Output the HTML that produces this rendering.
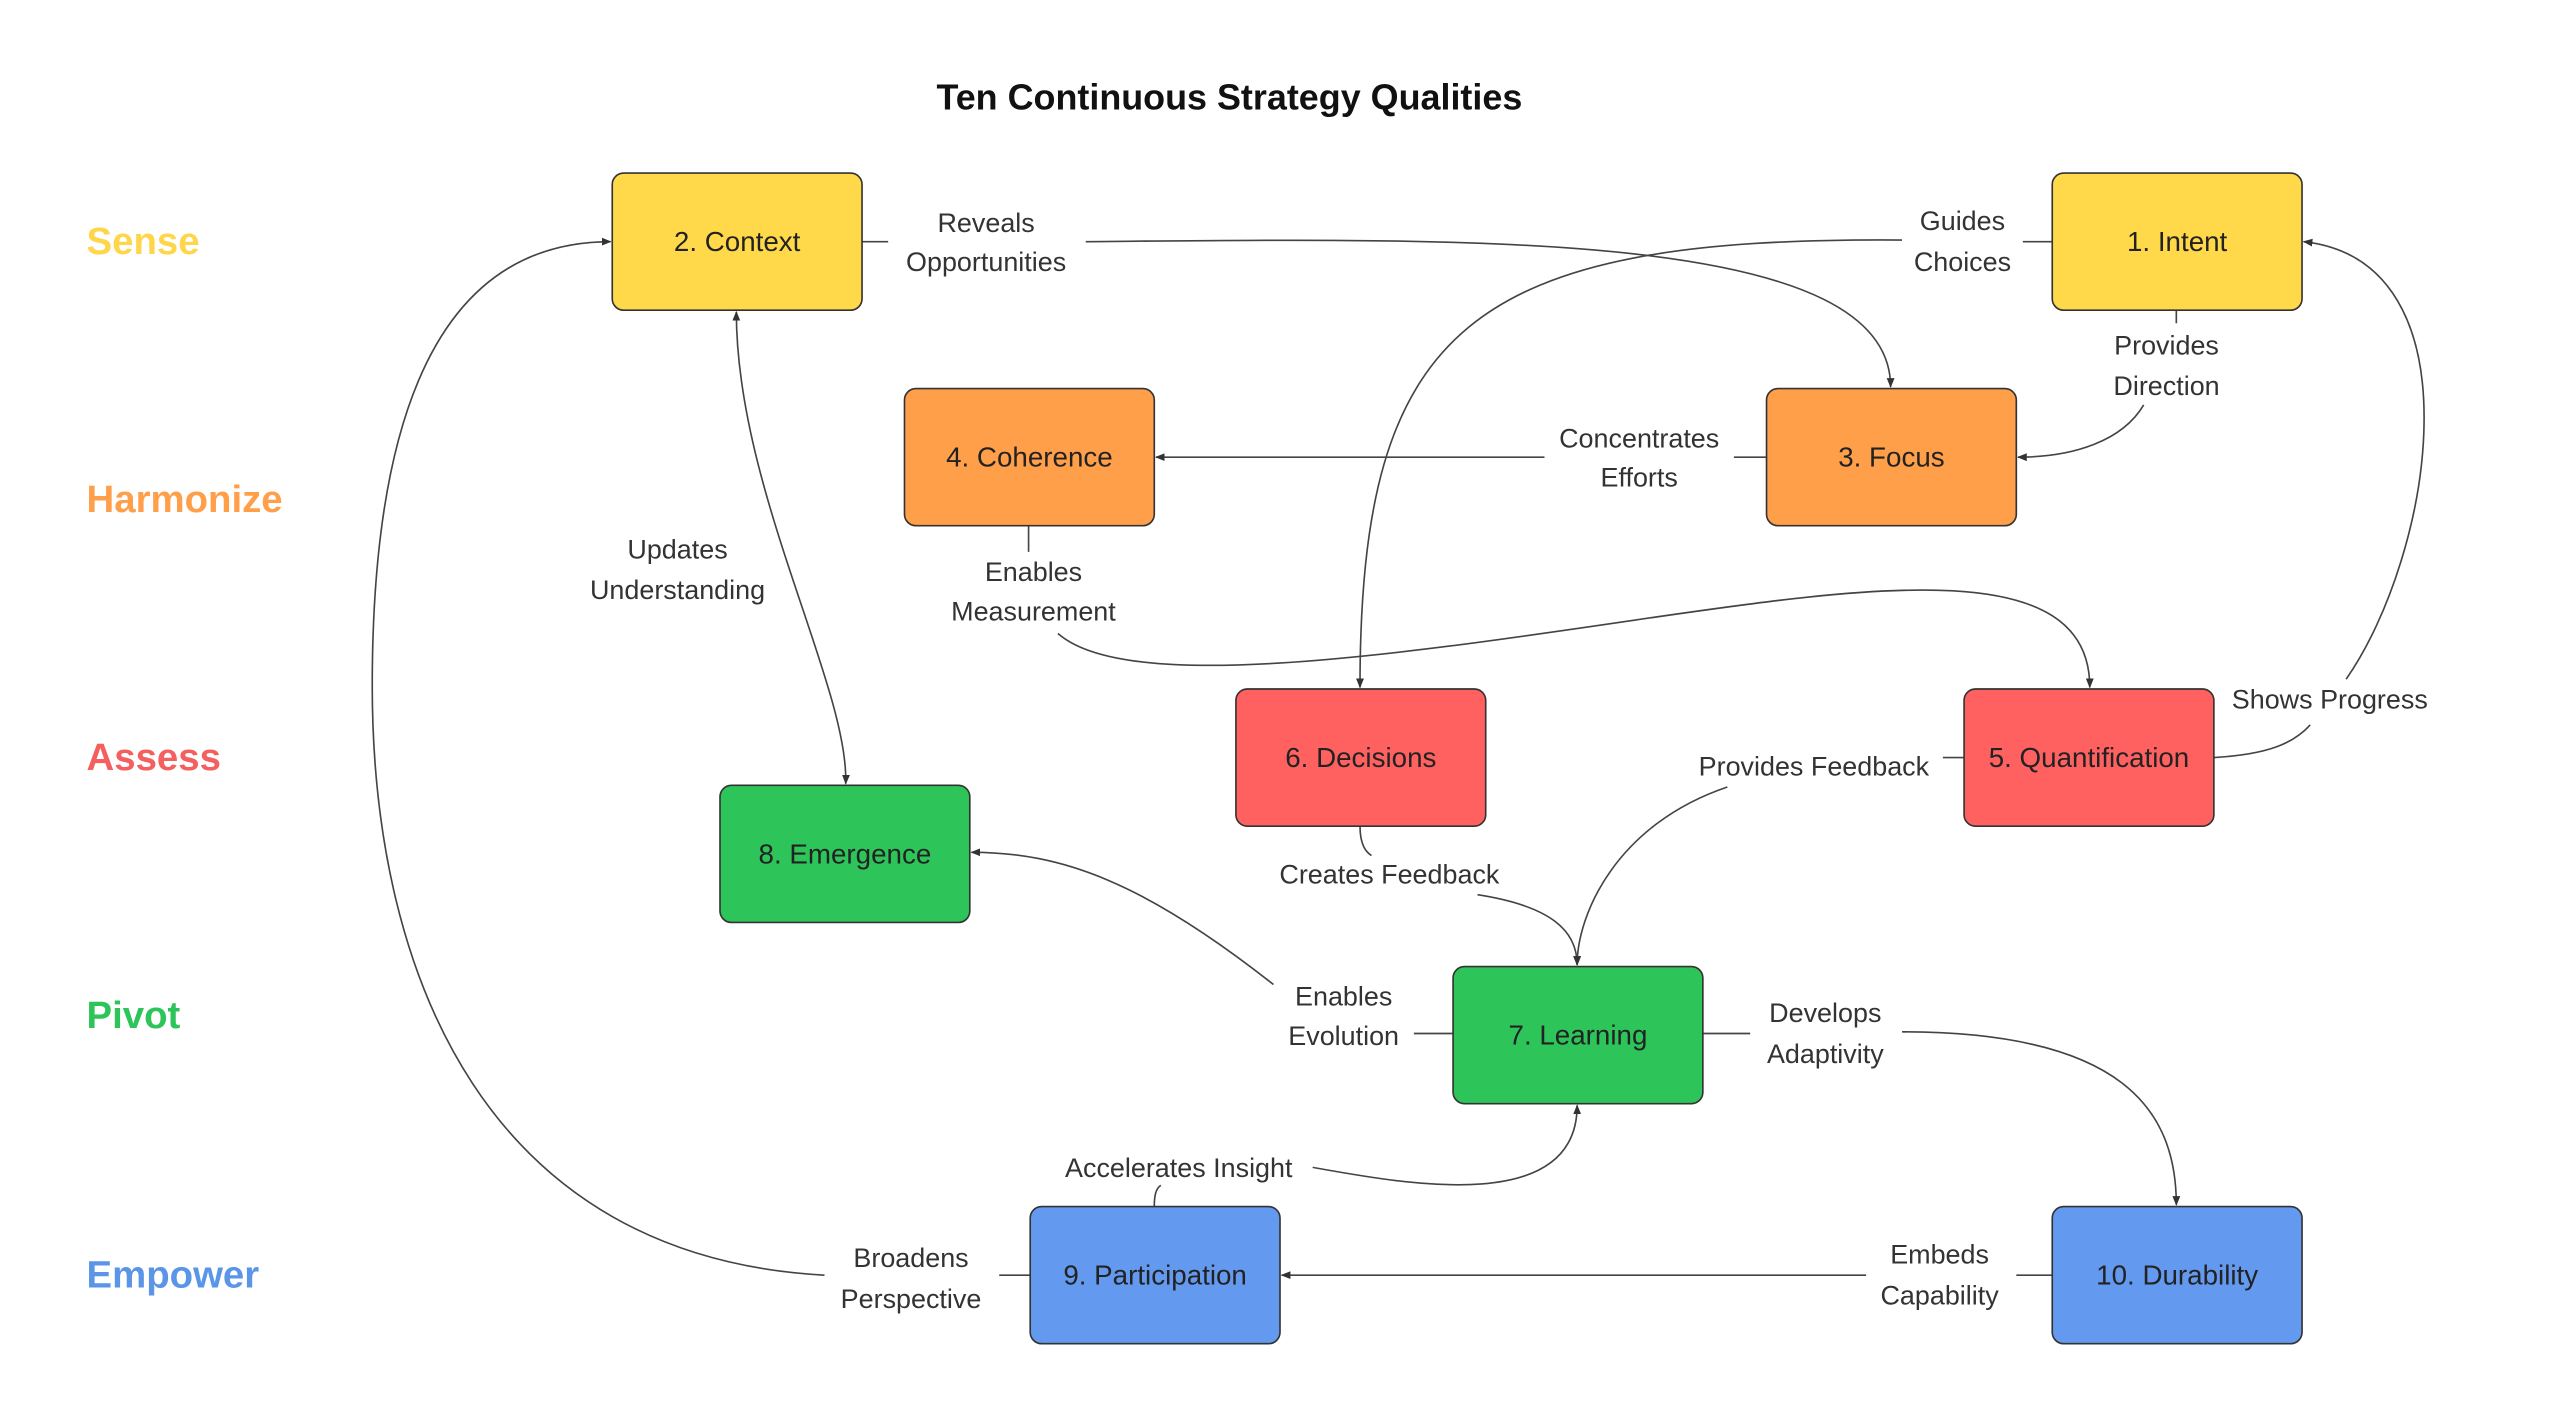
<!DOCTYPE html>
<html><head><meta charset="utf-8"><style>
html,body{margin:0;padding:0;background:#fff;width:2560px;height:1426px;overflow:hidden}
svg{display:block}
text{font-family:"Liberation Sans",sans-serif}
.lbl{font-size:16.5px;text-anchor:middle;fill:#333}
.node{font-size:17px;text-anchor:middle;dominant-baseline:central;fill:#222}
.row{font-size:23.5px;font-weight:bold;dominant-baseline:central}
path.e{fill:none;stroke:#444;stroke-width:1}
</style></head><body>
<svg width="2560" height="1426" viewBox="0 0 1568 873.4" preserveAspectRatio="none">
<defs><marker id="a" viewBox="0 0 10 10" refX="9" refY="5" markerWidth="6" markerHeight="6" orient="auto-start-reverse"><path d="M0,1 L10,5 L0,9z" fill="#333"/></marker></defs>
<text x="753" y="67" font-size="22" font-weight="bold" text-anchor="middle" style="fill:#111">Ten Continuous Strategy Qualities</text>
<text class="row" x="53" y="148" style="fill:#FFD64A">Sense</text>
<text class="row" x="53" y="306" style="fill:#FF9F4A">Harmonize</text>
<text class="row" x="53" y="464" style="fill:#F46060">Assess</text>
<text class="row" x="53" y="622" style="fill:#2DC45A">Pivot</text>
<text class="row" x="53" y="781" style="fill:#5B95E8">Empower</text>

<!-- edges -->
<path class="e" d="M528,148 H544"/><path class="e" d="M665,148 C900,146 1158,140 1158,237" marker-end="url(#a)"/>
<path class="e" d="M1257,148 H1239"/><path class="e" d="M1165,147 C900,145 833,200 833,421" marker-end="url(#a)"/>
<path class="e" d="M1333,190 V198"/><path class="e" d="M1313,248 C1300,270 1270,280 1236,280" marker-end="url(#a)"/>
<path class="e" d="M1082,280 H1062"/><path class="e" d="M946,280 H708" marker-end="url(#a)"/>
<path class="e" d="M630,322 V338"/><path class="e" d="M648,388 C690,425 850,402 1000,380 C1150,358 1280,340 1280,421" marker-end="url(#a)"/>
<path class="e" d="M1356,464 C1390,462 1405,455 1415,444"/><path class="e" d="M1437,416 C1490,340 1520,160 1411,148" marker-end="url(#a)"/>
<path class="e" d="M1203,464 H1190"/><path class="e" d="M1058,482 C990,505 966,560 966,591" marker-end="url(#a)"/>
<path class="e" d="M833,506 C833,518 837,522 840,524"/><path class="e" d="M905,548 C950,555 966,570 966,591" marker-end="url(#a)"/>
<path class="e" d="M451,191 C451,300 520,420 518,480" marker-start="url(#a)" marker-end="url(#a)"/>
<path class="e" d="M890,633 H866"/><path class="e" d="M780,603 C700,540 650,522 595,522" marker-end="url(#a)"/>
<path class="e" d="M1043,633 H1072"/><path class="e" d="M1165,632 C1300,632 1333,680 1333,738" marker-end="url(#a)"/>
<path class="e" d="M1257,781 H1235"/><path class="e" d="M1143,781 H785" marker-end="url(#a)"/>
<path class="e" d="M707,739 C707,732 708,728 711,726"/><path class="e" d="M804,715 C860,725 966,745 966,677" marker-end="url(#a)"/>
<path class="e" d="M631,781 H612"/><path class="e" d="M505,781 C300,770 228,600 228,420 C228,200 300,148 374,148" marker-end="url(#a)"/>

<!-- edge labels -->
<text class="lbl" x="604" y="142">Reveals</text><text class="lbl" x="604" y="166">Opportunities</text>
<text class="lbl" x="1202" y="141">Guides</text><text class="lbl" x="1202" y="166">Choices</text>
<text class="lbl" x="1327" y="217">Provides</text><text class="lbl" x="1327" y="242">Direction</text>
<text class="lbl" x="1004" y="274">Concentrates</text><text class="lbl" x="1004" y="298">Efforts</text>
<text class="lbl" x="633" y="356">Enables</text><text class="lbl" x="633" y="380">Measurement</text>
<text class="lbl" x="1427" y="434">Shows Progress</text>
<text class="lbl" x="1111" y="475">Provides Feedback</text>
<text class="lbl" x="851" y="541">Creates Feedback</text>
<text class="lbl" x="415" y="342">Updates</text><text class="lbl" x="415" y="367">Understanding</text>
<text class="lbl" x="823" y="616">Enables</text><text class="lbl" x="823" y="640">Evolution</text>
<text class="lbl" x="1118" y="626">Develops</text><text class="lbl" x="1118" y="651">Adaptivity</text>
<text class="lbl" x="1188" y="774">Embeds</text><text class="lbl" x="1188" y="799">Capability</text>
<text class="lbl" x="722" y="721">Accelerates Insight</text>
<text class="lbl" x="558" y="776">Broadens</text><text class="lbl" x="558" y="801">Perspective</text>

<!-- nodes -->
<g stroke="#333" stroke-width="1">
<rect x="375" y="106" width="153" height="84" rx="7" fill="#FFD94A"/>
<rect x="1257" y="106" width="153" height="84" rx="7" fill="#FFD94A"/>
<rect x="554" y="238" width="153" height="84" rx="7" fill="#FF9F4A"/>
<rect x="1082" y="238" width="153" height="84" rx="7" fill="#FF9F4A"/>
<rect x="757" y="422" width="153" height="84" rx="7" fill="#FF6161"/>
<rect x="1203" y="422" width="153" height="84" rx="7" fill="#FF6161"/>
<rect x="441" y="481" width="153" height="84" rx="7" fill="#2DC45A"/>
<rect x="890" y="592" width="153" height="84" rx="7" fill="#2DC45A"/>
<rect x="631" y="739" width="153" height="84" rx="7" fill="#6399EE"/>
<rect x="1257" y="739" width="153" height="84" rx="7" fill="#6399EE"/>
</g>
<text class="node" x="451.5" y="148">2. Context</text>
<text class="node" x="1333.5" y="148">1. Intent</text>
<text class="node" x="630.5" y="280">4. Coherence</text>
<text class="node" x="1158.5" y="280">3. Focus</text>
<text class="node" x="833.5" y="464">6. Decisions</text>
<text class="node" x="1279.5" y="464">5. Quantification</text>
<text class="node" x="517.5" y="523">8. Emergence</text>
<text class="node" x="966.5" y="634">7. Learning</text>
<text class="node" x="707.5" y="781">9. Participation</text>
<text class="node" x="1333.5" y="781">10. Durability</text>
</svg>
</body></html>
